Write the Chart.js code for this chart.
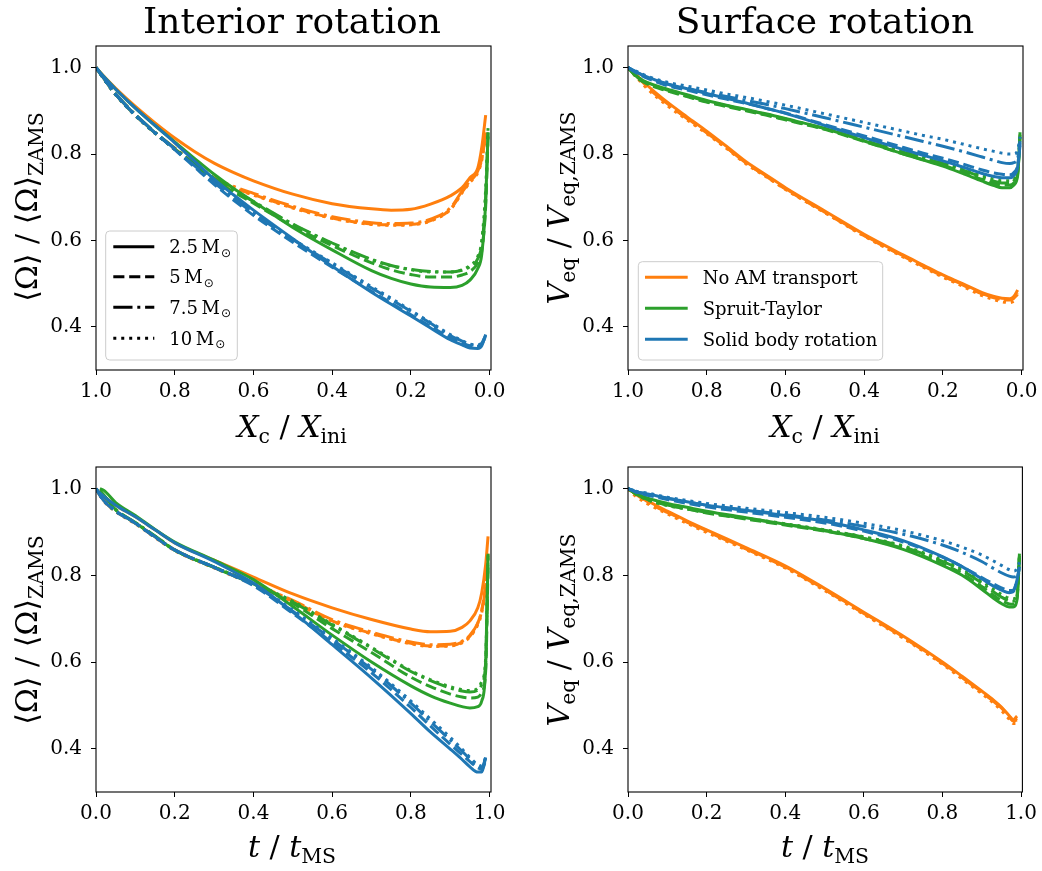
<!DOCTYPE html>
<html>
<head>
<meta charset="utf-8">
<script src="https://cdn.jsdelivr.net/npm/chart.js@4"></script>
<style>
  body { margin: 0; background: #fff; width: 1042px; height: 871px; position: relative; overflow: hidden; font-family: "DejaVu Serif", serif; }
  canvas { position: absolute; }
  .t { position: absolute; transform: translateX(-50%); line-height: 1; white-space: nowrap; color: #000; font-size: 30px; }
  .r { position: absolute; transform: translate(-50%, -50%) rotate(-90deg); line-height: 1; white-space: nowrap; color: #000; font-size: 30px; }
  sub { font-size: 0.68em; vertical-align: baseline; position: relative; top: 0.3em; }
  i { font-style: italic; }
</style>
</head>
<body>
<canvas id="tl" width="521" height="440" style="left:0;top:0"></canvas>
<canvas id="tr" width="521" height="440" style="left:521px;top:0"></canvas>
<canvas id="bl" width="521" height="431" style="left:0;top:440px"></canvas>
<canvas id="br" width="521" height="431" style="left:521px;top:440px"></canvas>

<div class="t" style="left:292px;top:3px;font-size:36px">Interior rotation</div>
<div class="t" style="left:825px;top:3px;font-size:36px">Surface rotation</div>

<div class="t" style="left:292px;top:412px"><i>X</i><sub>c</sub> / <i>X</i><sub>ini</sub></div>
<div class="t" style="left:825px;top:412px"><i>X</i><sub>c</sub> / <i>X</i><sub>ini</sub></div>
<div class="t" style="left:292px;top:832px"><i>t</i> / <i>t</i><sub>MS</sub></div>
<div class="t" style="left:825px;top:832px"><i>t</i> / <i>t</i><sub>MS</sub></div>

<div class="r" style="left:27px;top:207px">⟨Ω⟩ / ⟨Ω⟩<sub>ZAMS</sub></div>
<div class="r" style="left:559px;top:208px"><i>V</i><sub>eq</sub> / <i>V</i><sub>eq,ZAMS</sub></div>
<div class="r" style="left:27px;top:630px">⟨Ω⟩ / ⟨Ω⟩<sub>ZAMS</sub></div>
<div class="r" style="left:559px;top:630px"><i>V</i><sub>eq</sub> / <i>V</i><sub>eq,ZAMS</sub></div>

<script>
// x grids (top row: core hydrogen fraction, bottom row: fractional MS age)
const topX = [1.0, 0.975, 0.95, 0.9, 0.85, 0.8, 0.75, 0.7, 0.65, 0.6, 0.5, 0.4, 0.3, 0.25, 0.2, 0.15, 0.1, 0.07, 0.05, 0.03, 0.02, 0.01, 0.004];
const bottomX = [0, 0.01, 0.02, 0.05, 0.1, 0.15, 0.2, 0.3, 0.4, 0.5, 0.6, 0.7, 0.8, 0.85, 0.9, 0.93, 0.95, 0.97, 0.98, 0.99, 0.996];

const xTicks = [0.0, 0.2, 0.4, 0.6, 0.8, 1.0];
const yTicks = [0.4, 0.6, 0.8, 1.0];

const massLabels = ["2.5", "5", "7.5", "10"];
const methodLabels = ["No AM transport", "Spruit-Taylor", "Solid body rotation"];

// rows: 2.5, 5, 7.5, 10 Msun
const omegaXcNone = [
  [1.0, 0.975, 0.952, 0.910, 0.872, 0.837, 0.806, 0.779, 0.757, 0.738, 0.707, 0.685, 0.673, 0.670, 0.672, 0.684, 0.703, 0.722, 0.745, 0.768, 0.815, 0.89, null],
  [1.0, 0.968, 0.938, 0.890, 0.849, 0.812, 0.776, 0.742, 0.722, 0.706, 0.676, 0.652, 0.638, 0.636, 0.637, 0.646, 0.672, 0.712, 0.736, 0.760, 0.790, 0.85, null],
  [1.0, 0.969, 0.939, 0.891, 0.850, 0.814, 0.778, 0.745, 0.725, 0.709, 0.679, 0.655, 0.641, 0.639, 0.640, 0.649, 0.675, 0.714, 0.738, 0.761, 0.788, 0.845, null],
  [1.0, 0.967, 0.937, 0.889, 0.848, 0.811, 0.775, 0.741, 0.721, 0.705, 0.675, 0.651, 0.637, 0.635, 0.636, 0.645, 0.671, 0.710, 0.734, 0.757, 0.785, 0.84, null]
];
const omegaXcST = [
  [1.0, 0.974, 0.950, 0.906, 0.866, 0.828, 0.790, 0.753, 0.720, 0.690, 0.630, 0.578, 0.530, 0.512, 0.499, 0.492, 0.491, 0.496, 0.508, 0.535, 0.568, 0.69, 0.85],
  [1.0, 0.968, 0.938, 0.890, 0.849, 0.812, 0.775, 0.741, 0.712, 0.686, 0.633, 0.588, 0.548, 0.532, 0.521, 0.515, 0.515, 0.520, 0.528, 0.548, 0.575, 0.68, 0.84],
  [1.0, 0.969, 0.939, 0.891, 0.850, 0.813, 0.777, 0.744, 0.716, 0.690, 0.638, 0.594, 0.556, 0.542, 0.533, 0.528, 0.527, 0.531, 0.539, 0.558, 0.590, 0.70, 0.85],
  [1.0, 0.967, 0.937, 0.889, 0.848, 0.811, 0.776, 0.743, 0.715, 0.689, 0.637, 0.593, 0.555, 0.541, 0.532, 0.527, 0.527, 0.532, 0.542, 0.563, 0.600, 0.72, 0.86]
];
const omegaXcSB = [
  [1.0, 0.974, 0.950, 0.906, 0.866, 0.826, 0.784, 0.742, 0.705, 0.670, 0.604, 0.540, 0.480, 0.452, 0.425, 0.397, 0.370, 0.358, 0.351, 0.350, 0.356, 0.382, null],
  [1.0, 0.968, 0.938, 0.890, 0.849, 0.810, 0.770, 0.730, 0.693, 0.658, 0.596, 0.538, 0.482, 0.455, 0.428, 0.401, 0.375, 0.363, 0.356, 0.355, 0.360, 0.378, null],
  [1.0, 0.969, 0.939, 0.891, 0.850, 0.812, 0.773, 0.734, 0.698, 0.663, 0.602, 0.546, 0.490, 0.463, 0.436, 0.408, 0.380, 0.367, 0.359, 0.357, 0.362, 0.380, null],
  [1.0, 0.967, 0.937, 0.889, 0.848, 0.811, 0.772, 0.733, 0.697, 0.662, 0.603, 0.548, 0.493, 0.466, 0.438, 0.410, 0.382, 0.368, 0.360, 0.358, 0.363, 0.378, null]
];

const veqXcNone = [
  [1.0, 0.980, 0.958, 0.920, 0.886, 0.853, 0.818, 0.782, 0.752, 0.722, 0.668, 0.614, 0.566, 0.543, 0.520, 0.500, 0.479, 0.470, 0.466, 0.465, 0.470, 0.485, null],
  [1.0, 0.978, 0.955, 0.917, 0.883, 0.850, 0.815, 0.779, 0.749, 0.719, 0.665, 0.611, 0.563, 0.540, 0.517, 0.497, 0.476, 0.467, 0.463, 0.462, 0.466, 0.478, null],
  [1.0, 0.977, 0.954, 0.916, 0.882, 0.849, 0.815, 0.779, 0.750, 0.720, 0.666, 0.612, 0.564, 0.541, 0.518, 0.498, 0.477, 0.468, 0.464, 0.463, 0.467, 0.475, null],
  [1.0, 0.974, 0.950, 0.912, 0.879, 0.847, 0.813, 0.777, 0.748, 0.718, 0.664, 0.610, 0.561, 0.538, 0.515, 0.494, 0.472, 0.463, 0.458, 0.456, 0.459, 0.465, null]
];
const veqXcST = [
  [1.0, 0.978, 0.965, 0.950, 0.937, 0.924, 0.913, 0.903, 0.893, 0.882, 0.859, 0.830, 0.800, 0.786, 0.772, 0.755, 0.737, 0.727, 0.722, 0.722, 0.728, 0.750, 0.85],
  [1.0, 0.975, 0.962, 0.946, 0.933, 0.920, 0.910, 0.900, 0.890, 0.879, 0.857, 0.829, 0.800, 0.787, 0.774, 0.758, 0.741, 0.732, 0.728, 0.728, 0.733, 0.755, 0.84],
  [1.0, 0.977, 0.964, 0.948, 0.935, 0.922, 0.912, 0.902, 0.892, 0.881, 0.859, 0.832, 0.804, 0.791, 0.778, 0.763, 0.746, 0.737, 0.733, 0.733, 0.738, 0.760, 0.845],
  [1.0, 0.976, 0.963, 0.947, 0.934, 0.921, 0.911, 0.901, 0.891, 0.880, 0.858, 0.832, 0.805, 0.793, 0.780, 0.766, 0.750, 0.742, 0.738, 0.738, 0.742, 0.765, 0.85]
];
const veqXcSB = [
  [1.0, 0.988, 0.978, 0.962, 0.951, 0.940, 0.929, 0.918, 0.906, 0.894, 0.866, 0.838, 0.810, 0.797, 0.784, 0.770, 0.755, 0.748, 0.745, 0.745, 0.750, 0.770, 0.82],
  [1.0, 0.986, 0.975, 0.958, 0.948, 0.937, 0.927, 0.917, 0.906, 0.895, 0.868, 0.842, 0.815, 0.802, 0.790, 0.777, 0.763, 0.756, 0.753, 0.752, 0.757, 0.775, 0.825],
  [1.0, 0.988, 0.978, 0.962, 0.952, 0.942, 0.933, 0.924, 0.915, 0.905, 0.884, 0.862, 0.840, 0.829, 0.818, 0.806, 0.793, 0.785, 0.780, 0.778, 0.780, 0.790, 0.83],
  [1.0, 0.990, 0.980, 0.966, 0.957, 0.948, 0.939, 0.931, 0.922, 0.913, 0.893, 0.873, 0.853, 0.843, 0.834, 0.823, 0.812, 0.806, 0.802, 0.800, 0.800, 0.810, 0.84]
];

const omegaTNone = [
  [1.0, 0.990, 0.982, 0.962, 0.935, 0.905, 0.875, 0.835, 0.796, 0.757, 0.725, 0.698, 0.676, 0.670, 0.671, 0.680, 0.695, 0.725, 0.760, 0.825, 0.89],
  [1.0, 0.985, 0.972, 0.948, 0.920, 0.888, 0.858, 0.818, 0.780, 0.740, 0.695, 0.666, 0.643, 0.637, 0.638, 0.646, 0.660, 0.690, 0.720, 0.780, 0.85],
  [1.0, 0.985, 0.973, 0.949, 0.921, 0.889, 0.859, 0.819, 0.781, 0.742, 0.698, 0.669, 0.646, 0.640, 0.641, 0.648, 0.662, 0.690, 0.718, 0.775, 0.845],
  [1.0, 0.984, 0.971, 0.947, 0.919, 0.887, 0.857, 0.817, 0.779, 0.739, 0.694, 0.665, 0.642, 0.636, 0.637, 0.644, 0.658, 0.686, 0.714, 0.770, 0.84]
];
const omegaTST = [
  [null, 1.0, 0.996, 0.968, 0.938, 0.906, 0.877, 0.835, 0.790, 0.728, 0.662, 0.600, 0.545, 0.522, 0.505, 0.497, 0.494, 0.497, 0.510, 0.590, 0.85],
  [null, 0.995, 0.985, 0.952, 0.921, 0.890, 0.858, 0.818, 0.780, 0.735, 0.677, 0.622, 0.565, 0.543, 0.526, 0.519, 0.517, 0.519, 0.530, 0.580, 0.82],
  [null, 0.995, 0.985, 0.952, 0.922, 0.891, 0.859, 0.819, 0.781, 0.738, 0.685, 0.632, 0.578, 0.557, 0.540, 0.533, 0.531, 0.535, 0.548, 0.600, 0.84],
  [null, 0.995, 0.984, 0.951, 0.921, 0.890, 0.858, 0.819, 0.782, 0.740, 0.687, 0.634, 0.580, 0.559, 0.543, 0.536, 0.534, 0.540, 0.555, 0.610, 0.85]
];
const omegaTSB = [
  [1.0, 0.990, 0.982, 0.962, 0.935, 0.905, 0.875, 0.832, 0.782, 0.715, 0.640, 0.563, 0.481, 0.438, 0.399, 0.375, 0.358, 0.346, 0.346, 0.380, null],
  [1.0, 0.985, 0.972, 0.948, 0.920, 0.888, 0.858, 0.818, 0.776, 0.712, 0.645, 0.575, 0.495, 0.452, 0.410, 0.386, 0.370, 0.356, 0.352, 0.372, null],
  [1.0, 0.985, 0.972, 0.949, 0.921, 0.889, 0.859, 0.819, 0.778, 0.717, 0.652, 0.583, 0.505, 0.462, 0.420, 0.394, 0.376, 0.360, 0.357, 0.378, null],
  [1.0, 0.985, 0.972, 0.948, 0.920, 0.888, 0.858, 0.819, 0.779, 0.720, 0.655, 0.587, 0.510, 0.468, 0.426, 0.399, 0.380, 0.363, 0.360, 0.380, null]
];

const veqTNone = [
  [1.0, 0.995, 0.990, 0.972, 0.948, 0.926, 0.905, 0.864, 0.822, 0.770, 0.715, 0.660, 0.600, 0.567, 0.533, 0.512, 0.496, 0.476, 0.467, 0.475, null],
  [1.0, 0.994, 0.988, 0.970, 0.946, 0.924, 0.903, 0.862, 0.820, 0.768, 0.713, 0.658, 0.598, 0.565, 0.531, 0.510, 0.494, 0.474, 0.465, 0.470, null],
  [1.0, 0.994, 0.987, 0.969, 0.945, 0.923, 0.902, 0.861, 0.819, 0.767, 0.712, 0.657, 0.597, 0.564, 0.530, 0.509, 0.493, 0.473, 0.464, 0.466, null],
  [1.0, 0.990, 0.982, 0.965, 0.942, 0.920, 0.899, 0.859, 0.817, 0.765, 0.710, 0.655, 0.595, 0.561, 0.527, 0.505, 0.488, 0.468, 0.458, 0.458, null]
];
const veqTST = [
  [1.0, 0.995, 0.990, 0.978, 0.966, 0.957, 0.948, 0.933, 0.918, 0.903, 0.885, 0.860, 0.823, 0.800, 0.768, 0.747, 0.735, 0.727, 0.727, 0.745, 0.85],
  [1.0, 0.994, 0.988, 0.975, 0.962, 0.953, 0.944, 0.930, 0.916, 0.902, 0.885, 0.862, 0.826, 0.804, 0.774, 0.754, 0.742, 0.734, 0.733, 0.750, 0.84],
  [1.0, 0.994, 0.988, 0.975, 0.962, 0.954, 0.945, 0.931, 0.918, 0.904, 0.888, 0.866, 0.832, 0.811, 0.782, 0.762, 0.750, 0.741, 0.740, 0.755, 0.845],
  [1.0, 0.993, 0.987, 0.974, 0.961, 0.953, 0.945, 0.932, 0.919, 0.905, 0.889, 0.868, 0.835, 0.815, 0.787, 0.768, 0.756, 0.747, 0.746, 0.760, 0.85]
];
const veqTSB = [
  [1.0, 0.997, 0.993, 0.988, 0.978, 0.970, 0.962, 0.950, 0.938, 0.925, 0.905, 0.880, 0.843, 0.820, 0.792, 0.775, 0.766, 0.760, 0.762, 0.790, 0.82],
  [1.0, 0.996, 0.992, 0.985, 0.975, 0.966, 0.958, 0.946, 0.934, 0.921, 0.902, 0.877, 0.842, 0.820, 0.795, 0.780, 0.771, 0.765, 0.766, 0.790, 0.82],
  [1.0, 0.997, 0.993, 0.988, 0.978, 0.970, 0.962, 0.951, 0.940, 0.928, 0.913, 0.895, 0.870, 0.853, 0.832, 0.816, 0.806, 0.798, 0.796, 0.800, 0.82],
  [1.0, 0.997, 0.994, 0.990, 0.980, 0.973, 0.966, 0.955, 0.945, 0.934, 0.920, 0.903, 0.880, 0.865, 0.847, 0.833, 0.823, 0.813, 0.810, 0.815, 0.83]
];

const colors = ["#ff7f0e", "#2ca02c", "#1f77b4"];
const LW = 3;
const dashes = [[], [11.1, 4.8], [19.2, 4.8, 3, 4.8], [3, 4.95]];

function series(xs, rows, color) {
  return rows.map((ys, k) => ({
    data: xs.map((x, i) => ({ x: x, y: ys[i] })).filter(p => p.y !== null),
    borderColor: color,
    borderDash: dashes[k],
    borderWidth: LW,
    borderCapStyle: "butt",
    pointRadius: 0,
    fill: false,
    cubicInterpolationMode: "monotone"
  }));
}

const framePlugin = {
  id: "frame",
  afterDatasetsDraw(chart) {
    const { ctx, chartArea: a } = chart;
    ctx.save();
    ctx.strokeStyle = "#000";
    ctx.lineWidth = 1.1;
    ctx.strokeRect(a.left, a.top, a.right - a.left, a.bottom - a.top);
    ctx.restore();
  }
};

function legendPlugin(spec) {
  return {
    id: "boxLegend",
    afterDraw(chart) {
      const ctx = chart.ctx;
      const [x0, y0, x1, y1] = spec.box;
      ctx.save();
      ctx.beginPath();
      ctx.roundRect(x0, y0, x1 - x0, y1 - y0, 4);
      ctx.fillStyle = "rgba(255,255,255,0.8)";
      ctx.fill();
      ctx.strokeStyle = "#cccccc";
      ctx.lineWidth = 1;
      ctx.stroke();
      spec.items.forEach((it, i) => {
        const y = spec.rows[i];
        ctx.beginPath();
        ctx.setLineDash(it.dash);
        ctx.strokeStyle = it.color;
        ctx.lineWidth = LW;
        ctx.lineCap = "butt";
        ctx.moveTo(spec.lineX[0], y);
        ctx.lineTo(spec.lineX[1], y);
        ctx.stroke();
        ctx.setLineDash([]);
        ctx.fillStyle = "#000";
        ctx.font = '18px "DejaVu Serif"';
        ctx.textBaseline = "alphabetic";
        ctx.fillText(it.text, spec.textX, y + 6.5);
        if (it.sub) {
          const w = ctx.measureText(it.text).width;
          ctx.font = '12px "DejaVu Sans"';
          ctx.fillText(it.sub, spec.textX + w + 1, y + 10);
        }
      });
      ctx.restore();
    }
  };
}

function makePanel(id, xs, groups, opt) {
  const ds = [];
  groups.forEach((rows, c) => ds.push(...series(xs, rows, colors[c])));
  ds.reverse(); // last plotted ends up on top

  const tickFont = { family: '"DejaVu Serif"', size: 20 };
  const plugins = [framePlugin];
  if (opt.legend) plugins.push(legendPlugin(opt.legend));

  new Chart(document.getElementById(id), {
    type: "line",
    data: { datasets: ds },
    plugins: plugins,
    options: {
      responsive: false,
      animation: false,
      devicePixelRatio: 1,
      layout: { padding: { left: 0, top: opt.top, right: opt.right, bottom: 0 } },
      plugins: { legend: { display: false }, tooltip: { enabled: false } },
      scales: {
        x: {
          type: "linear",
          reverse: opt.reverse,
          min: opt.xmin,
          max: opt.xmax,
          afterFit: s => { s.height = opt.xh; },
          afterBuildTicks: s => { s.ticks = xTicks.map(v => ({ value: v })); },
          ticks: { callback: v => v.toFixed(1), font: tickFont, color: "#000", padding: 5, maxRotation: 0, autoSkip: false },
          grid: { drawOnChartArea: false, tickLength: 5, color: "#000", lineWidth: 1 },
          border: { display: false }
        },
        y: {
          min: 0.3,
          max: 1.05,
          afterFit: s => { s.width = opt.yw; },
          afterBuildTicks: s => { s.ticks = yTicks.map(v => ({ value: v })); },
          ticks: { callback: v => v.toFixed(1), font: tickFont, color: "#000", padding: 9, autoSkip: false },
          grid: { drawOnChartArea: false, tickLength: 5, color: "#000", lineWidth: 1 },
          border: { display: false }
        }
      }
    }
  });
}

const massLegend = {
  box: [105.7, 231, 237.3, 360],
  rows: [246.7, 276.7, 307.3, 338.3],
  lineX: [113.3, 154.3],
  textX: 169.3,
  items: massLabels.map((m, k) => ({ color: "#000", dash: dashes[k], text: m + "\u2009M", sub: "\u2299" }))
};
const methodLegend = {
  box: [117.3, 261.7, 361.7, 360],
  rows: [277.3, 308.3, 339.3],
  lineX: [124, 166.7],
  textX: 181.7,
  items: methodLabels.map((t, c) => ({ color: colors[c], dash: [], text: t }))
};

makePanel("tl", topX, [omegaXcNone, omegaXcST, omegaXcSB],
  { reverse: true, xmin: -0.0035, xmax: 1.0, top: 46, right: 30, yw: 96, xh: 70, legend: massLegend });
makePanel("tr", topX, [veqXcNone, veqXcST, veqXcSB],
  { reverse: true, xmin: -0.0035, xmax: 1.0, top: 46, right: 19, yw: 107, xh: 70, legend: methodLegend });
makePanel("bl", bottomX, [omegaTNone, omegaTST, omegaTSB],
  { reverse: false, xmin: 0, xmax: 1.0035, top: 27, right: 30, yw: 96, xh: 79 });
makePanel("br", bottomX, [veqTNone, veqTST, veqTSB],
  { reverse: false, xmin: 0, xmax: 1.0035, top: 27, right: 19, yw: 107, xh: 79 });
</script>
</body>
</html>
